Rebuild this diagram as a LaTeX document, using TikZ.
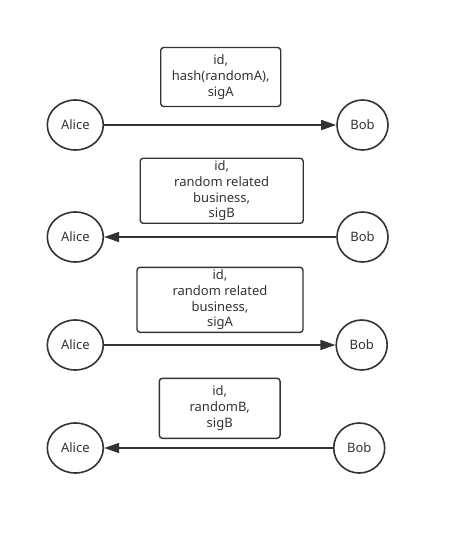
\documentclass[tikz,border=0pt]{standalone}
\usepackage{fontspec}
\setmainfont{Noto Sans}
\usetikzlibrary{shapes.geometric,arrows.meta}
\definecolor{inkgray}{HTML}{333333}

\begin{document}
\begin{tikzpicture}
                [x=1pt, y=-1pt,
                  every node/.style={font=\fontsize{13}{15.7}\selectfont, text=inkgray},
                  party/.style={ellipse, draw=inkgray, line width=1.6pt, inner sep=0pt,
                    minimum height=50pt},
                  message/.style={draw=inkgray, line width=1.4pt, rounded corners=3pt,
                    align=center, inner sep=0pt},
                  send/.style={draw=inkgray, line width=1.6pt,
                    -{Triangle[length=15pt, width=10pt]}},
                ]
                \useasboundingbox (0,0) rectangle (449,534);
                % round 1
                \node [party, minimum width=56pt] (alice1) at (75.3,125) {Alice};
                \node [party, minimum width=51pt] (bob1)   at (362.5,125) {Bob};
                \node [message, minimum width=120pt, minimum height=59pt] (msg1) at (220.7,77)
                  {id,\\hash(randomA),\\sigA};
                \draw [send] (alice1) -- (bob1);
                % round 2
                \node [party, minimum width=56pt] (alice2) at (75.3,237) {Alice};
                \node [party, minimum width=51pt] (bob2)   at (362.5,237) {Bob};
                \node [message, minimum width=163pt, minimum height=65pt] (msg2) at (221.7,190.8)
                  {id,\\random related\\business,\\sigB};
                \draw [send] (bob2) -- (alice2);
                % round 3
                \node [party, minimum width=56pt] (alice3) at (75.3,345) {Alice};
                \node [party, minimum width=51pt] (bob3)   at (361.7,345) {Bob};
                \node [message, minimum width=166pt, minimum height=65pt] (msg3) at (220,299.8)
                  {id,\\random related\\business,\\sigA};
                \draw [send] (alice3) -- (bob3);
                % round 4
                \node [party, minimum width=56pt] (alice4) at (75.3,448) {Alice};
                \node [party, minimum width=51pt] (bob4)   at (359.2,448) {Bob};
                \node [message, minimum width=120.7pt, minimum height=60pt] (msg4) at (219.7,408.3)
                  {id,\\randomB,\\sigB};
                \draw [send] (bob4) -- (alice4);
            \end{tikzpicture}
\end{document}
